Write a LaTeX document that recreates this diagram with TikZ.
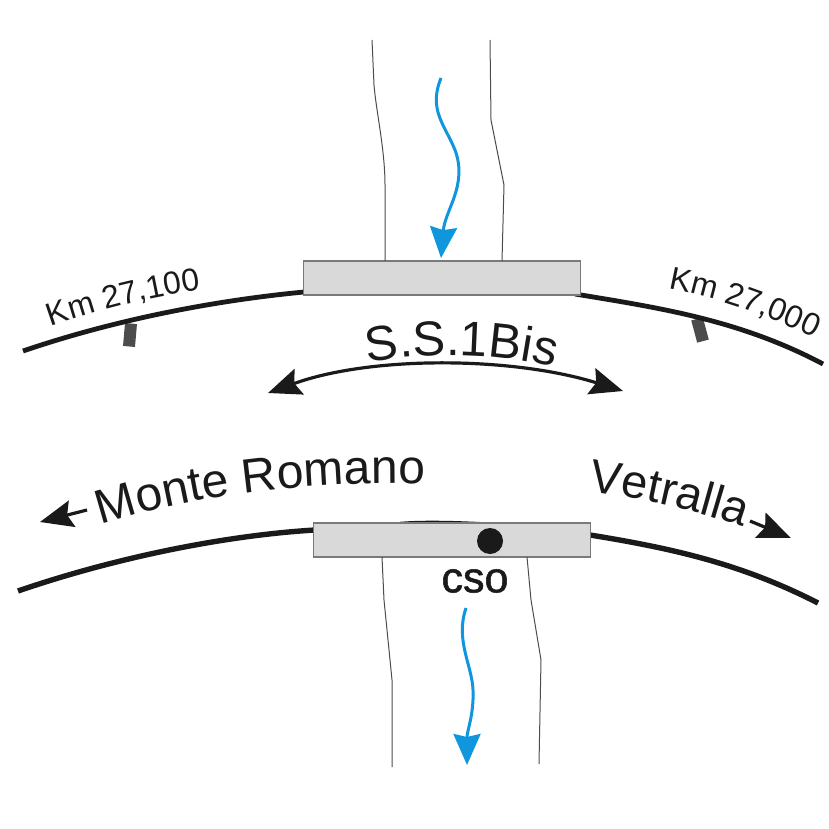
\documentclass[tikz,border=0pt]{standalone}
\usepackage{fontspec}
\setmainfont{Liberation Sans}
\newfontfamily\csofont[FakeBold=1.2]{Liberation Sans}
\usetikzlibrary{arrows.meta,decorations.text}
\definecolor{boxgray}{HTML}{D9D9D9}
\definecolor{edgegray}{HTML}{7A7A7A}
\definecolor{inkblack}{HTML}{1A1A1A}
\definecolor{flowblue}{HTML}{0F96DC}
\tikzset{
  x=1pt,y=-1pt,
  deck/.style={draw=edgegray,fill=boxgray,line width=1.3pt,minimum height=34pt,inner sep=0pt},
  road/.style={draw=inkblack,line width=4.8pt},
  roadb/.style={draw=inkblack,line width=5.4pt},
  bank/.style={draw=black!70,line width=1pt},
  flow/.style={draw=flowblue,line width=3pt,-{Stealth[length=31pt,width=27pt,inset=3pt,fill=flowblue]}},
  bigarrow/.style={draw=inkblack,line width=3.2pt},
  bighead/.tip={Stealth[length=33pt,width=27pt,inset=5pt]},
  post/.style={fill=black!70,draw=none,minimum width=12pt,minimum height=23pt,inner sep=0pt}
}
\begin{document}
\begin{tikzpicture}
\useasboundingbox (0,0) rectangle (829,829);
% coordinates
\coordinate (tbl1) at (372,40); \coordinate (tbr1) at (490,40);
\coordinate (bbl2) at (392,767); \coordinate (bbr2) at (539,764);
% roads
\coordinate (r1a) at (23,351); \coordinate (r1b) at (304,292);
\coordinate (r2a) at (575,294); \coordinate (r2b) at (823,364);
\coordinate (r3a) at (18,591); \coordinate (r3b) at (315,530);
\coordinate (r4a) at (590,535); \coordinate (r4b) at (818,603);
% posts
\node[post,rotate=-5] (p1) at (130,335) {};
\node[post,rotate=15] (p2) at (700,330) {};
\draw[road] (r1a) .. controls (120,318) and (220,300) .. (r1b);
\draw[road] (r2a) .. controls (660,308) and (740,320) .. (r2b);
\draw[roadb] (r3a) .. controls (120,556) and (230,535) .. (r3b);
\draw[roadb] (r4a) .. controls (670,548) and (740,563) .. (r4b);
\draw[draw=inkblack,line width=2.4pt] (400,523) .. controls (425,521) and (460,522) .. (495,524);
% decks
\node[deck,minimum width=277pt] (d1) at (442,278) {};
\node[deck,minimum width=277pt] (d2) at (452,540) {};
% banks
\draw[bank] (tbl1) -- (374,85) .. controls (376,110) and (385,150) .. (385,185) -- (385,261);
\draw[bank] (tbr1) -- (491,120) -- (504,185) -- (502,261);
\draw[bank] (382,557) -- (384,600) -- (392,680) -- (bbl2);
\draw[bank] (527,557) -- (531,600) -- (541,660) -- (bbr2);
% flows
\draw[flow] (441,78) .. controls (428,110) and (445,125) .. (455,150) .. controls (468,185) and (445,210) .. (441,258);
\draw[flow] (466,608) .. controls (455,640) and (472,665) .. (473,690) .. controls (474,715) and (467,730) .. (467,765);
% double arrow
\coordinate (ba) at (268,393); \coordinate (bb) at (623,391);
\draw[bigarrow,bighead-bighead] (ba) .. controls (370,356) and (510,356) .. (bb);
% small arrows
\draw[bigarrow,bighead-] (40,522) -- (87,510);
\draw[bigarrow,-bighead] (750,521) -- (791,538);
% dot
\node[circle,fill=inkblack,minimum size=26pt,inner sep=0pt] (cso) at (490,541) {};
\node[text=inkblack,font=\csofont\fontsize{43}{43}\selectfont,inner sep=0pt] (csol) at (475,581) {cso};
% curved labels
\path[postaction={decorate,decoration={text along path,text align=center,text={|\fontsize{32}{32}\selectfont\color{inkblack}|Km 27,100}}}] (47,328) .. controls (100,309) and (150,297) .. (205,289);
\path[postaction={decorate,decoration={text along path,text align=center,text={|\fontsize{32}{32}\selectfont\color{inkblack}|Km 27,000}}}] (664,288) .. controls (720,298) and (770,317) .. (818,340);
\path[postaction={decorate,decoration={text along path,text align=center,text={|\fontsize{49}{49}\selectfont\color{inkblack}|S.S.1Bis}}}] (366,363) .. controls (420,352) and (500,352) .. (556,368);
\path[postaction={decorate,decoration={text along path,text align=center,text={|\fontsize{48}{48}\selectfont\color{inkblack}|Monte Romano}}}] (94,527) .. controls (190,495) and (310,480) .. (432,484);
\path[postaction={decorate,decoration={text along path,text align=center,text={|\fontsize{47}{47}\selectfont\color{inkblack}|Vetralla}}}] (586,491) .. controls (640,498) and (695,510) .. (746,528);
\end{tikzpicture}
\end{document}
